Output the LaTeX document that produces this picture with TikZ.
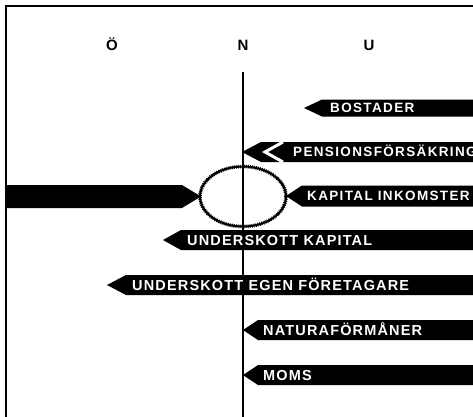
\documentclass[tikz,border=0pt]{standalone}
\usepackage{fontspec}
\setmainfont{Liberation Sans}
\newfontfamily\labfont[LetterSpace=10]{Liberation Sans}
\newfontfamily\labfontb[LetterSpace=8]{Liberation Sans}
\usetikzlibrary{shapes.geometric}
\tikzset{
  lab/.style={text=white, font=\labfont\bfseries\fontsize{13.5}{15}\selectfont, inner sep=0pt, anchor=base west},
  labb/.style={text=white, font=\labfontb\bfseries\fontsize{14.5}{16}\selectfont, inner sep=0pt, anchor=base west},
  hdr/.style={font=\bfseries\fontsize{15}{17}\selectfont, inner sep=0pt, anchor=base},
  rule/.style={line width=1.2pt},
  bar/.style={fill=black},
  ring/.style={ellipse, draw, minimum width=86pt, minimum height=60pt, inner sep=0pt},
}
\newcommand\leftbar[4]{%
  \fill[bar] (#1,#2) -- (#3,#2-#4) -- (480,#2-#4) -- (480,#2+#4) -- (#3,#2+#4) -- cycle;}
\begin{document}
\begin{tikzpicture}[x=1pt,y=-1pt]
  \useasboundingbox (0,0) rectangle (473,416);
  \clip (0,0) rectangle (473,416);
  % frame
  \draw[rule] (5,6) -- (480,6);
  \draw[rule] (6,6) -- (6,420);
  % headers
  \node[hdr] (hO) at (112,50.5) {Ö};
  \node[hdr] (hN) at (243,50.5) {N};
  \node[hdr] (hU) at (369,50.5) {U};
  % vertical N line
  \draw[rule] (243,72) -- (243,420);
  % BOSTADER
  \leftbar{304}{108}{322}{8.5}
  \node[lab] (bostader) at (330,112.8) {BOSTADER};
  % PENSIONSFÖRSÄKRING
  \leftbar{242}{152}{261}{10}
  \draw[white, line width=3pt, miter limit=10] (283,142) -- (265,152) -- (283,162);
  \node[lab] (pension) at (293,156.8) {PENSIONSFÖRSÄKRING};
  % KAPITAL INKOMSTER
  \leftbar{286}{196}{302}{10.5}
  \node[lab] (kapink) at (307,200.8) {KAPITAL INKOMSTER};
  % left big arrow
  \fill[bar] (6,185) -- (182,185) -- (201,196.5) -- (182,208) -- (6,208) -- cycle;
  % ellipse
  \node[ring, line width=2pt] (sum) at (243,196.5) {};
  \node[ring, line width=3.6pt, dash pattern=on 0.9pt off 1.1pt] (sumteeth) at (243,196.5) {};
  % UNDERSKOTT KAPITAL
  \leftbar{163}{240}{181}{10}
  \node[labb] (undkap) at (187,245.2) {UNDERSKOTT KAPITAL};
  % UNDERSKOTT EGEN FÖRETAGARE
  \leftbar{107}{285}{126}{10}
  \node[labb] (undeg) at (132,290.2) {UNDERSKOTT EGEN FÖRETAGARE};
  % NATURAFÖRMÅNER
  \leftbar{243}{330}{258}{10}
  \node[labb] (natura) at (263,335.2) {NATURAFÖRMÅNER};
  % MOMS
  \leftbar{243}{375}{258}{10}
  \node[labb] (moms) at (263,380.2) {MOMS};
\end{tikzpicture}
\end{document}
